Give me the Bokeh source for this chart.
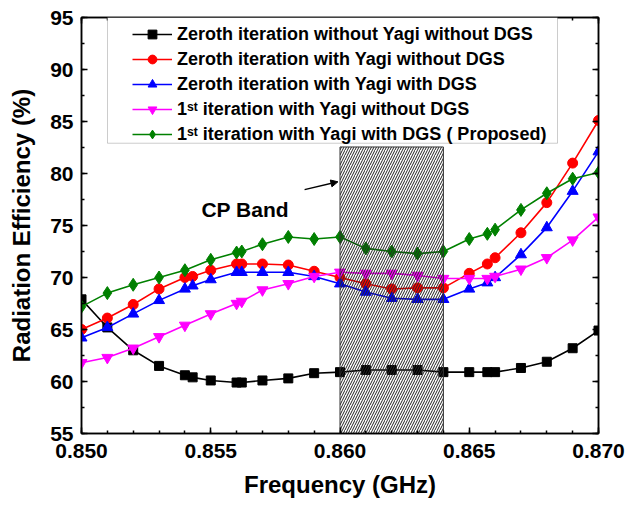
from bokeh.plotting import figure
from bokeh.models import (Legend, LegendItem, LinearAxis, Range1d, FixedTicker,
                          NumeralTickFormatter, Arrow, NormalHead, Label, BoxAnnotation)
from bokeh.embed import file_html
from bokeh.resources import INLINE

# ---------------- data ----------------
x_full = [0.850, 0.851, 0.852, 0.853, 0.854, 0.8543, 0.855, 0.856, 0.8562, 0.857,
          0.858, 0.859, 0.860, 0.861, 0.862, 0.863, 0.864, 0.865, 0.8657, 0.866,
          0.867, 0.868, 0.869, 0.870]
x_part = [0.850, 0.851, 0.852, 0.853, 0.854, 0.855, 0.856, 0.8562, 0.857,
          0.858, 0.859, 0.860, 0.861, 0.862, 0.863, 0.864, 0.865, 0.8657, 0.866,
          0.867, 0.868, 0.869, 0.870]

zeroth_no_yagi_no_dgs = [67.9, 65.2, 63.0, 61.5, 60.6, 60.4, 60.1, 59.9, 59.9, 60.1,
                         60.3, 60.8, 60.9, 61.1, 61.1, 61.1, 60.9, 60.9, 60.9, 60.9,
                         61.3, 61.9, 63.2, 64.9]
zeroth_yagi_no_dgs = [65.0, 66.1, 67.4, 68.9, 70.0, 70.1, 70.7, 71.3, 71.3, 71.3,
                      71.2, 70.6, 70.0, 69.4, 68.9, 69.0, 69.0, 70.4, 71.3, 71.9,
                      74.3, 77.2, 81.0, 85.1]
zeroth_yagi_dgs = [64.2, 65.2, 66.5, 67.8, 68.9, 69.2, 69.8, 70.5, 70.5, 70.5,
                   70.5, 70.1, 69.4, 68.6, 68.0, 67.9, 67.9, 68.9, 69.5, 70.0,
                   72.2, 74.8, 78.3, 82.1]
first_yagi_no_dgs = [61.8, 62.3, 63.2, 64.3, 65.4, 66.5, 67.5, 67.7, 68.8,
                     69.4, 70.1, 70.5, 70.4, 70.4, 70.2, 69.9, 69.9, 69.9, 70.1,
                     70.8, 71.9, 73.6, 75.8]
first_yagi_dgs = [67.2, 68.5, 69.3, 70.0, 70.7, 71.7, 72.4, 72.5, 73.2,
                  73.9, 73.7, 73.9, 72.8, 72.5, 72.3, 72.5, 73.7, 74.2, 74.6,
                  76.5, 78.1, 79.5, 80.1]

labels = ["Zeroth iteration without Yagi without DGS",
          "Zeroth iteration with Yagi without DGS",
          "Zeroth iteration with Yagi with DGS",
          "1\u02e2\u1d57 iteration with Yagi without DGS",
          "1\u02e2\u1d57 iteration with Yagi with DGS ( Proposed)"]

cp_band = [0.860, 0.864]
cp_top = 82.55

x_ticks = [0.850, 0.855, 0.860, 0.865, 0.870]
y_ticks = [55, 60, 65, 70, 75, 80, 85, 90, 95]

FONT = "Liberation Sans"

p = figure(width=635, height=507, output_backend="svg", toolbar_location=None,
           x_range=Range1d(0.850, 0.870), y_range=Range1d(55, 95),
           min_border_left=81, min_border_right=37, min_border_top=17,
           min_border_bottom=74)
p.xgrid.visible = False
p.ygrid.visible = False
p.outline_line_color = "black"
p.outline_line_width = 1.5

series = [
    (x_full, zeroth_no_yagi_no_dgs, "black", "square", 9),
    (x_full, zeroth_yagi_no_dgs, "#ff0000", "circle", 10),
    (x_full, zeroth_yagi_dgs, "#0000ff", "triangle", 11),
    (x_part, first_yagi_no_dgs, "#ff00ff", "inverted_triangle", 11),
    (x_part, first_yagi_dgs, "#008000", "diamond", 13),
]

items = []
for (xs, ys, col, mk, sz), lab in zip(series, labels):
    r1 = p.line(xs, ys, line_color=col, line_width=1.6)
    r2 = p.scatter(xs, ys, marker=mk, size=sz, fill_color=col, line_color=col)
    items.append(LegendItem(label=lab, renderers=[r1, r2]))

# CP band hatched box
p.quad(left=[cp_band[0]], right=[cp_band[1]], bottom=[55], top=[cp_top],
       fill_alpha=0, hatch_pattern="/", hatch_color="#222222", hatch_scale=5,
       hatch_weight=1, line_color="#333333", line_width=1)

p.add_layout(Label(x=0.85464, y=76.5, text="CP Band", text_font=FONT,
                   text_font_style="bold", text_font_size="21px",
                   text_color="black",
                   text_baseline="alphabetic", text_align="left"))
p.add_layout(Arrow(end=NormalHead(size=7, fill_color="black", line_color="black"),
                   x_start=0.85863, y_start=78.45, x_end=0.85992, y_end=79.2,
                   line_color="black", line_width=1.5))

# legend frame
p.add_layout(BoxAnnotation(left=0.851006, right=0.868414, top=95, bottom=82.91,
                           fill_color="white", fill_alpha=1,
                           line_color="#555555", line_width=1))

legend = Legend(items=items, location=(51, 288))
legend.label_text_font = FONT
legend.label_text_font_style = "bold"
legend.label_text_font_size = "18px"
legend.label_text_color = "black"
legend.glyph_width = 40
legend.glyph_height = 22
legend.label_height = 22
legend.spacing = 3
legend.padding = 0
legend.margin = 0
legend.label_standoff = 5
legend.border_line_alpha = 0
legend.background_fill_alpha = 0
p.add_layout(legend)

def style_axis(ax, ticks, show_labels=True):
    ax.axis_line_width = 1.5
    ax.axis_line_color = "black"
    ax.major_tick_in = 6
    ax.major_tick_out = 0
    ax.minor_tick_in = 3
    ax.minor_tick_out = 0
    ax.major_tick_line_width = 1.5
    ax.minor_tick_line_width = 1.5
    ax.major_label_text_font = FONT
    ax.major_label_text_font_style = "bold"
    ax.major_label_text_font_size = "21px"
    ax.major_label_text_color = "black"
    if not show_labels:
        ax.major_label_overrides = {t: "" for t in ticks}
        ax.major_label_standoff = 0

x_minor = [0.850 + 0.001 * i for i in range(21)]
y_minor = [55 + 2.5 * i for i in range(17)]
p.xaxis.ticker = FixedTicker(ticks=x_ticks, minor_ticks=x_minor)
p.xaxis.formatter = NumeralTickFormatter(format="0.000")
p.yaxis.ticker = FixedTicker(ticks=y_ticks, minor_ticks=y_minor)
style_axis(p.xaxis[0], x_ticks)
style_axis(p.yaxis[0], y_ticks)
p.xaxis.axis_label = "Frequency (GHz)"
p.yaxis.axis_label = "Radiation Efficiency (%)"
for ax in (p.xaxis[0], p.yaxis[0]):
    ax.axis_label_text_font = FONT
    ax.axis_label_text_font_style = "bold"
    ax.axis_label_text_font_size = "24px"
    ax.axis_label_text_color = "black"
p.xaxis[0].major_label_standoff = 10
p.xaxis[0].axis_label_standoff = 10
p.yaxis[0].major_label_standoff = 8
p.yaxis[0].axis_label_standoff = 12

top_ax = LinearAxis(ticker=FixedTicker(ticks=x_ticks, minor_ticks=x_minor))
right_ax = LinearAxis(ticker=FixedTicker(ticks=y_ticks, minor_ticks=y_minor))
style_axis(top_ax, x_ticks, False)
style_axis(right_ax, y_ticks, False)
p.add_layout(top_ax, "above")
p.add_layout(right_ax, "right")

open("out.html", "w").write(file_html(p, INLINE))
